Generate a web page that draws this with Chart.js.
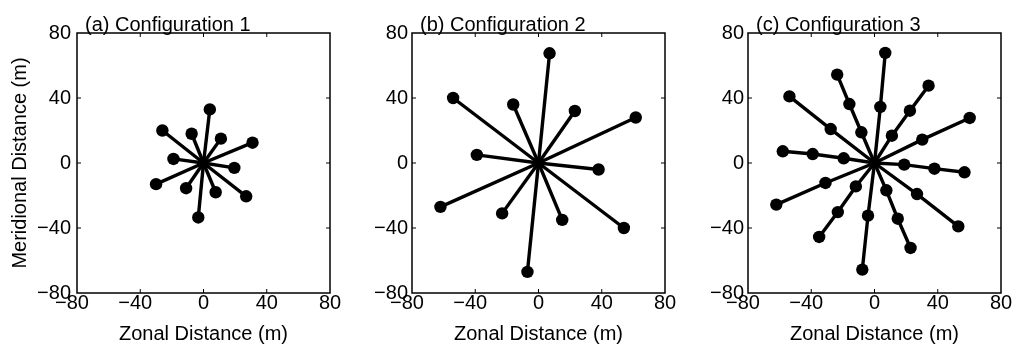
<!DOCTYPE html>
<html>
<head>
<meta charset="utf-8">
<script src="https://cdn.jsdelivr.net/npm/chart.js@4.4.1/dist/chart.umd.min.js"></script>
<style>
  html, body { margin: 0; padding: 0; background: #fff; }
  #wrap { position: relative; width: 1016px; height: 347px; overflow: hidden; }
  #wrap canvas { position: absolute; left: 0; top: 0; }
</style>
</head>
<body>
<div id="wrap">
  <canvas id="c1" width="1016" height="347"></canvas>
  <canvas id="c2" width="1016" height="347"></canvas>
  <canvas id="c3" width="1016" height="347"></canvas>
</div>
<script>
// ---------------- data ----------------
const tickValues = [-80, -40, 0, 40, 80];
const panelTitles = ['(a) Configuration 1', '(b) Configuration 2', '(c) Configuration 3'];
const xTitle = 'Zonal Distance (m)';
const yTitle = 'Meridional Distance (m)';

// Configuration 1: one sensor per arm (12 arms)
const config1X = [4, -7.5, 11, -26, 31, -19, 19.5, -30, -11, 7.7, 27, -3.3];
const config1Y = [33, 18, 15, 20, 12.5, 2.5, -3, -13, -15.5, -18, -20.5, -33.5];

// Configuration 2: one sensor per arm, doubled radius
const config2X = [7, -16, 23, -54, 61.5, -39, 38, -62, -23, 15, 54, -7];
const config2Y = [67.5, 36, 32, 40, 28, 5, -4, -27, -31, -35, -40, -67];

// Configuration 3: up to three sensors per arm
const config3Ring1X = [3.7, -8.3, 11, -27.7, 30.2, -19.5, 18.8, -31, -11.8, 7.5, 26.9, -4.1];
const config3Ring1Y = [34.5, 18.9, 16.8, 20.9, 14.4, 2.9, -1, -12.3, -14.4, -16.8, -19.1, -32.4];
const config3Ring2X = [6.8, -15.9, 22.4, -53.8, 60.2, -39.1, 37.9, -62.1, -23.2, 14.7, 53, -7.7];
const config3Ring2Y = [67.7, 36.3, 32.2, 41, 27.7, 5.5, -3.5, -25.6, -30.2, -34.3, -39, -65.6];
const config3Ring3X = [null, -23.6, 34.2, null, null, -58, 56.9, null, -35, 22.8, null, null];
const config3Ring3Y = [null, 54.4, 47.6, null, null, 7.2, -5.7, null, -45.5, -52.3, null, null];

// ---------------- helpers ----------------
const FONT = '"Liberation Sans", Arial, Helvetica, sans-serif';
const fmt = v => (v < 0 ? '\u2212' + Math.abs(v) : String(v));
const fmtX = v => (v < 0 ? '\u2212' + Math.abs(v) + '\u2002' : String(v));

function buildArms(rings) {
  const n = rings[0][0].length;
  const arms = [];
  for (let i = 0; i < n; i++) {
    const pts = [{x: 0, y: 0}];
    rings.forEach(([xs, ys]) => {
      if (xs[i] !== null && ys[i] !== null) pts.push({x: xs[i], y: ys[i]});
    });
    arms.push(pts);
  }
  return arms;
}

const framePlugin = {
  id: 'frame',
  afterDatasetsDraw(chart, args, opts) {
    const {ctx, chartArea: {left, right, top, bottom}, scales: {x, y}} = chart;
    ctx.save();
    ctx.strokeStyle = '#000';
    ctx.lineWidth = 1.5;
    ctx.strokeRect(left, top, right - left, bottom - top);
    ctx.lineWidth = 1;
    const tl = 4;
    tickValues.slice(1, -1).forEach(v => {
      const px = x.getPixelForValue(v);
      const py = y.getPixelForValue(v);
      ctx.beginPath();
      ctx.moveTo(px, bottom); ctx.lineTo(px, bottom - tl);
      ctx.moveTo(px, top); ctx.lineTo(px, top + tl);
      ctx.moveTo(left, py); ctx.lineTo(left + tl, py);
      ctx.moveTo(right, py); ctx.lineTo(right - tl, py);
      ctx.stroke();
    });
    ctx.fillStyle = '#000';
    ctx.font = '20px ' + FONT;
    ctx.textAlign = 'left';
    ctx.textBaseline = 'alphabetic';
    ctx.fillText(opts.text, left + 8, top - 2);
    ctx.restore();
  }
};

function makeChart(id, arms, box, opt) {
  const datasets = arms.map(pts => ({
    data: pts,
    showLine: true,
    borderColor: '#000',
    borderWidth: 3.4,
    backgroundColor: '#000',
    pointBackgroundColor: '#000',
    pointBorderWidth: 0,
    pointRadius: c => (c.dataIndex === 0 ? 3.5 : 6.2),
    pointHoverRadius: c => (c.dataIndex === 0 ? 3.5 : 6.2),
    tension: 0
  }));
  const zeroPad = s => { s.paddingLeft = 0; s.paddingRight = 0; s.paddingTop = 0; s.paddingBottom = 0; };
  return new Chart(document.getElementById(id), {
    type: 'scatter',
    data: { datasets },
    plugins: [framePlugin],
    options: {
      responsive: false,
      animation: false,
      events: [],
      layout: { padding: { left: box.padLeft, right: box.padRight, top: 33, bottom: 0 } },
      plugins: {
        legend: { display: false },
        tooltip: { enabled: false },
        title: { display: false },
        frame: { text: opt.title }
      },
      scales: {
        x: {
          type: 'linear',
          min: -80, max: 80,
          afterBuildTicks: s => { s.ticks = tickValues.map(v => ({value: v})); },
          afterFit: s => { s.height = 54; zeroPad(s); },
          grid: { display: false, drawTicks: false },
          border: { display: false },
          ticks: {
            color: '#000',
            font: { family: FONT, size: 20, lineHeight: 1 },
            padding: 0,
            maxRotation: 0,
            autoSkip: false,
            callback: v => fmtX(v)
          },
          title: {
            display: true,
            text: xTitle,
            color: '#000',
            font: { family: FONT, size: 20, lineHeight: 1.2 },
            padding: { top: 0, bottom: 1 }
          }
        },
        y: {
          type: 'linear',
          min: -80, max: 80,
          afterBuildTicks: s => { s.ticks = tickValues.map(v => ({value: v})); },
          afterFit: s => { s.width = box.yWidth; zeroPad(s); },
          grid: { display: false, drawTicks: false },
          border: { display: false },
          ticks: {
            color: '#000',
            font: { family: FONT, size: 20, lineHeight: 1 },
            padding: box.yTickPad,
            autoSkip: false,
            callback: v => fmt(v)
          },
          title: {
            display: opt.showYTitle,
            text: yTitle,
            color: '#000',
            font: { family: FONT, size: 20, lineHeight: 1.2 },
            padding: { top: 8, bottom: 0 }
          }
        }
      }
    }
  });
}

const arms1 = buildArms([[config1X, config1Y]]);
const arms2 = buildArms([[config2X, config2Y]]);
const arms3 = buildArms([[config3Ring1X, config3Ring1Y], [config3Ring2X, config3Ring2Y], [config3Ring3X, config3Ring3Y]]);

// plot areas: a 77-330, b 412-665, c 748-1001 (x); 33-293 (y)
makeChart('c1', arms1, { padLeft: 0, padRight: 1016 - 330, yWidth: 77, yTickPad: 6 }, { title: panelTitles[0], showYTitle: true });
makeChart('c2', arms2, { padLeft: 412 - 60, padRight: 1016 - 665, yWidth: 60, yTickPad: 4 }, { title: panelTitles[1], showYTitle: false });
makeChart('c3', arms3, { padLeft: 748 - 60, padRight: 1016 - 1001, yWidth: 60, yTickPad: 4 }, { title: panelTitles[2], showYTitle: false });
</script>
</body>
</html>
